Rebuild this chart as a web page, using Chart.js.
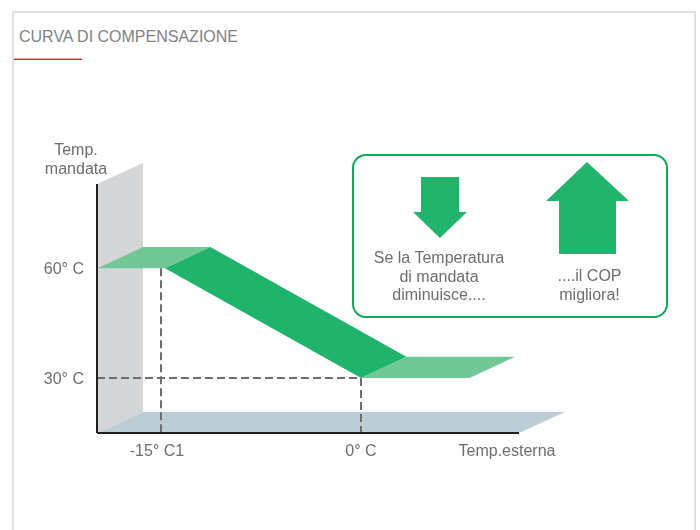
<!DOCTYPE html>
<html lang="it">
<head>
    <meta charset="UTF-8">
    <title>Curva di compensazione</title>
    <script src="https://cdn.jsdelivr.net/npm/chart.js@4"></script>
    <style>
        html, body { margin: 0; background: #fff; overflow: hidden; }
        #page { position: relative; width: 700px; height: 530px; font-family: "Liberation Sans", Arial, sans-serif; color: #6d6e71; font-size: 16px; }
        #page canvas { position: absolute; left: 0; top: 0; }
        #frame { position: absolute; left: 12px; top: 11px; width: 680px; height: 540px; border: 2px solid #e1e1e1; }
        #title { position: absolute; left: 19px; top: 28px; font-size: 16px; color: #808285; white-space: nowrap; line-height: 18px; }
        #rule { position: absolute; left: 14px; top: 59px; width: 68px; height: 1px; background: #ed1c24; box-shadow: 0 -1px 0 #f5a9ac; }
        #box { position: absolute; left: 352px; top: 154px; width: 312px; height: 160px; border: 2px solid #0fa958; border-radius: 14px; }
        .note { position: absolute; text-align: center; line-height: 18.5px; white-space: nowrap; transform: translateX(-50%); }
    </style>
</head>
<body>
<div id="page">
    <div id="frame"></div>
    <div id="title">CURVA DI COMPENSAZIONE</div>
    <div id="rule"></div>
    <div id="box"></div>
    <canvas id="curve" width="700" height="530"></canvas>
    <div class="note" style="left:76px;top:141px">Temp.<br>mandata</div>
    <div class="note" style="left:439px;top:249px">Se la Temperatura<br>di mandata<br>diminuisce....</div>
    <div class="note" style="left:589.5px;top:267px">....il COP<br>migliora!</div>
</div>
<script>
    // x = outside temperature, y = flow temperature
    const xTicks = [-15.3, 0, 10.95];
    const xLabels = ['-15° C1', '0° C', 'Temp.esterna'];
    const yTicks = [30, 60];
    const yLabels = ['30° C', '60° C'];

    const wall = [[-19.8, 83], [-16.35, 88.7], [-16.35, 20.7], [-19.8, 15]];
    const floor = [[-19.8, 15], [-16.35, 20.7], [15.3, 20.7], [11.85, 15]];
    const upperStep = [[-19.75, 60], [-16.35, 65.8], [-11.3, 65.8], [-14.7, 60]];
    const curveBand = [[-14.7, 60], [-11.3, 65.8], [3.4, 35.8], [0, 30]];
    const lowerStep = [[0, 30], [3.4, 35.8], [11.55, 35.8], [8.15, 30]];

    const yAxisLine = [[-19.8, 83], [-19.8, 15]];
    const xAxisLine = [[-19.8, 15], [11.85, 15]];
    const dropCold = [[-15, 60], [-15, 15]];
    const dropZero = [[0, 30], [0, 15]];
    const level30 = [[-19.8, 30], [0, 30]];

    const arrowDown = [[4.5, 84.9], [7.35, 84.9], [7.35, 75.35], [7.95, 75.35], [5.92, 68.25], [3.9, 75.35], [4.5, 75.35]];
    const arrowUp = [[16.95, 89], [20.1, 78.35], [19.125, 78.35], [19.125, 63.85], [14.85, 63.85], [14.85, 78.35], [13.875, 78.35]];

    const toPoints = list => list.map(p => ({ x: p[0], y: p[1] }));

    function shape(list, color, order) {
        return {
            data: toPoints(list), showLine: true, fill: 'shape', backgroundColor: color,
            borderWidth: 0, pointRadius: 0, tension: 0, clip: false, order: order
        };
    }

    function stroke(list, color, width, dash, order) {
        return {
            data: toPoints(list), showLine: true, fill: false, borderColor: color,
            borderWidth: width, borderDash: dash, pointRadius: 0, tension: 0, clip: false, order: order
        };
    }

    new Chart(document.getElementById('curve'), {
        type: 'scatter',
        data: {
            datasets: [
                shape(wall, '#d5d6d8', 9),
                shape(floor, '#bdcdd6', 8),
                shape(lowerStep, '#72c797', 7),
                shape(upperStep, '#72c797', 6),
                shape(curveBand, '#20b36b', 5),
                stroke(dropCold, '#6d6e71', 2, [8, 4], 4),
                stroke(dropZero, '#6d6e71', 2, [8, 4], 4),
                stroke(level30, '#6d6e71', 2, [8, 4], 4),
                stroke(yAxisLine, '#231f20', 2, [], 3),
                stroke(xAxisLine, '#231f20', 2, [], 3),
                shape(arrowDown, '#22b36d', 2),
                shape(arrowUp, '#22b36d', 2)
            ]
        },
        options: {
            responsive: false,
            animation: false,
            layout: { padding: { top: 140, right: 3, left: 0, bottom: 0 } },
            plugins: { legend: { display: false }, tooltip: { enabled: false } },
            scales: {
                x: {
                    type: 'linear', min: -19.8, max: 25.2,
                    grid: { display: false }, border: { display: false },
                    afterBuildTicks: axis => { axis.ticks = xTicks.map(v => ({ value: v })); },
                    afterFit: axis => { axis.height = 97; },
                    ticks: {
                        autoSkip: false, maxRotation: 0, padding: 1, color: '#6d6e71',
                        font: { family: '"Liberation Sans"', size: 16 },
                        callback: v => xLabels[xTicks.indexOf(v)]
                    }
                },
                y: {
                    type: 'linear', min: 15, max: 95,
                    grid: { display: false }, border: { display: false },
                    afterBuildTicks: axis => { axis.ticks = yTicks.map(v => ({ value: v })); },
                    afterFit: axis => { axis.width = 97; },
                    ticks: {
                        autoSkip: false, padding: 5, labelOffset: 1.5, color: '#6d6e71',
                        font: { family: '"Liberation Sans"', size: 16 },
                        callback: v => yLabels[yTicks.indexOf(v)]
                    }
                }
            }
        }
    });
</script>
</body>
</html>
